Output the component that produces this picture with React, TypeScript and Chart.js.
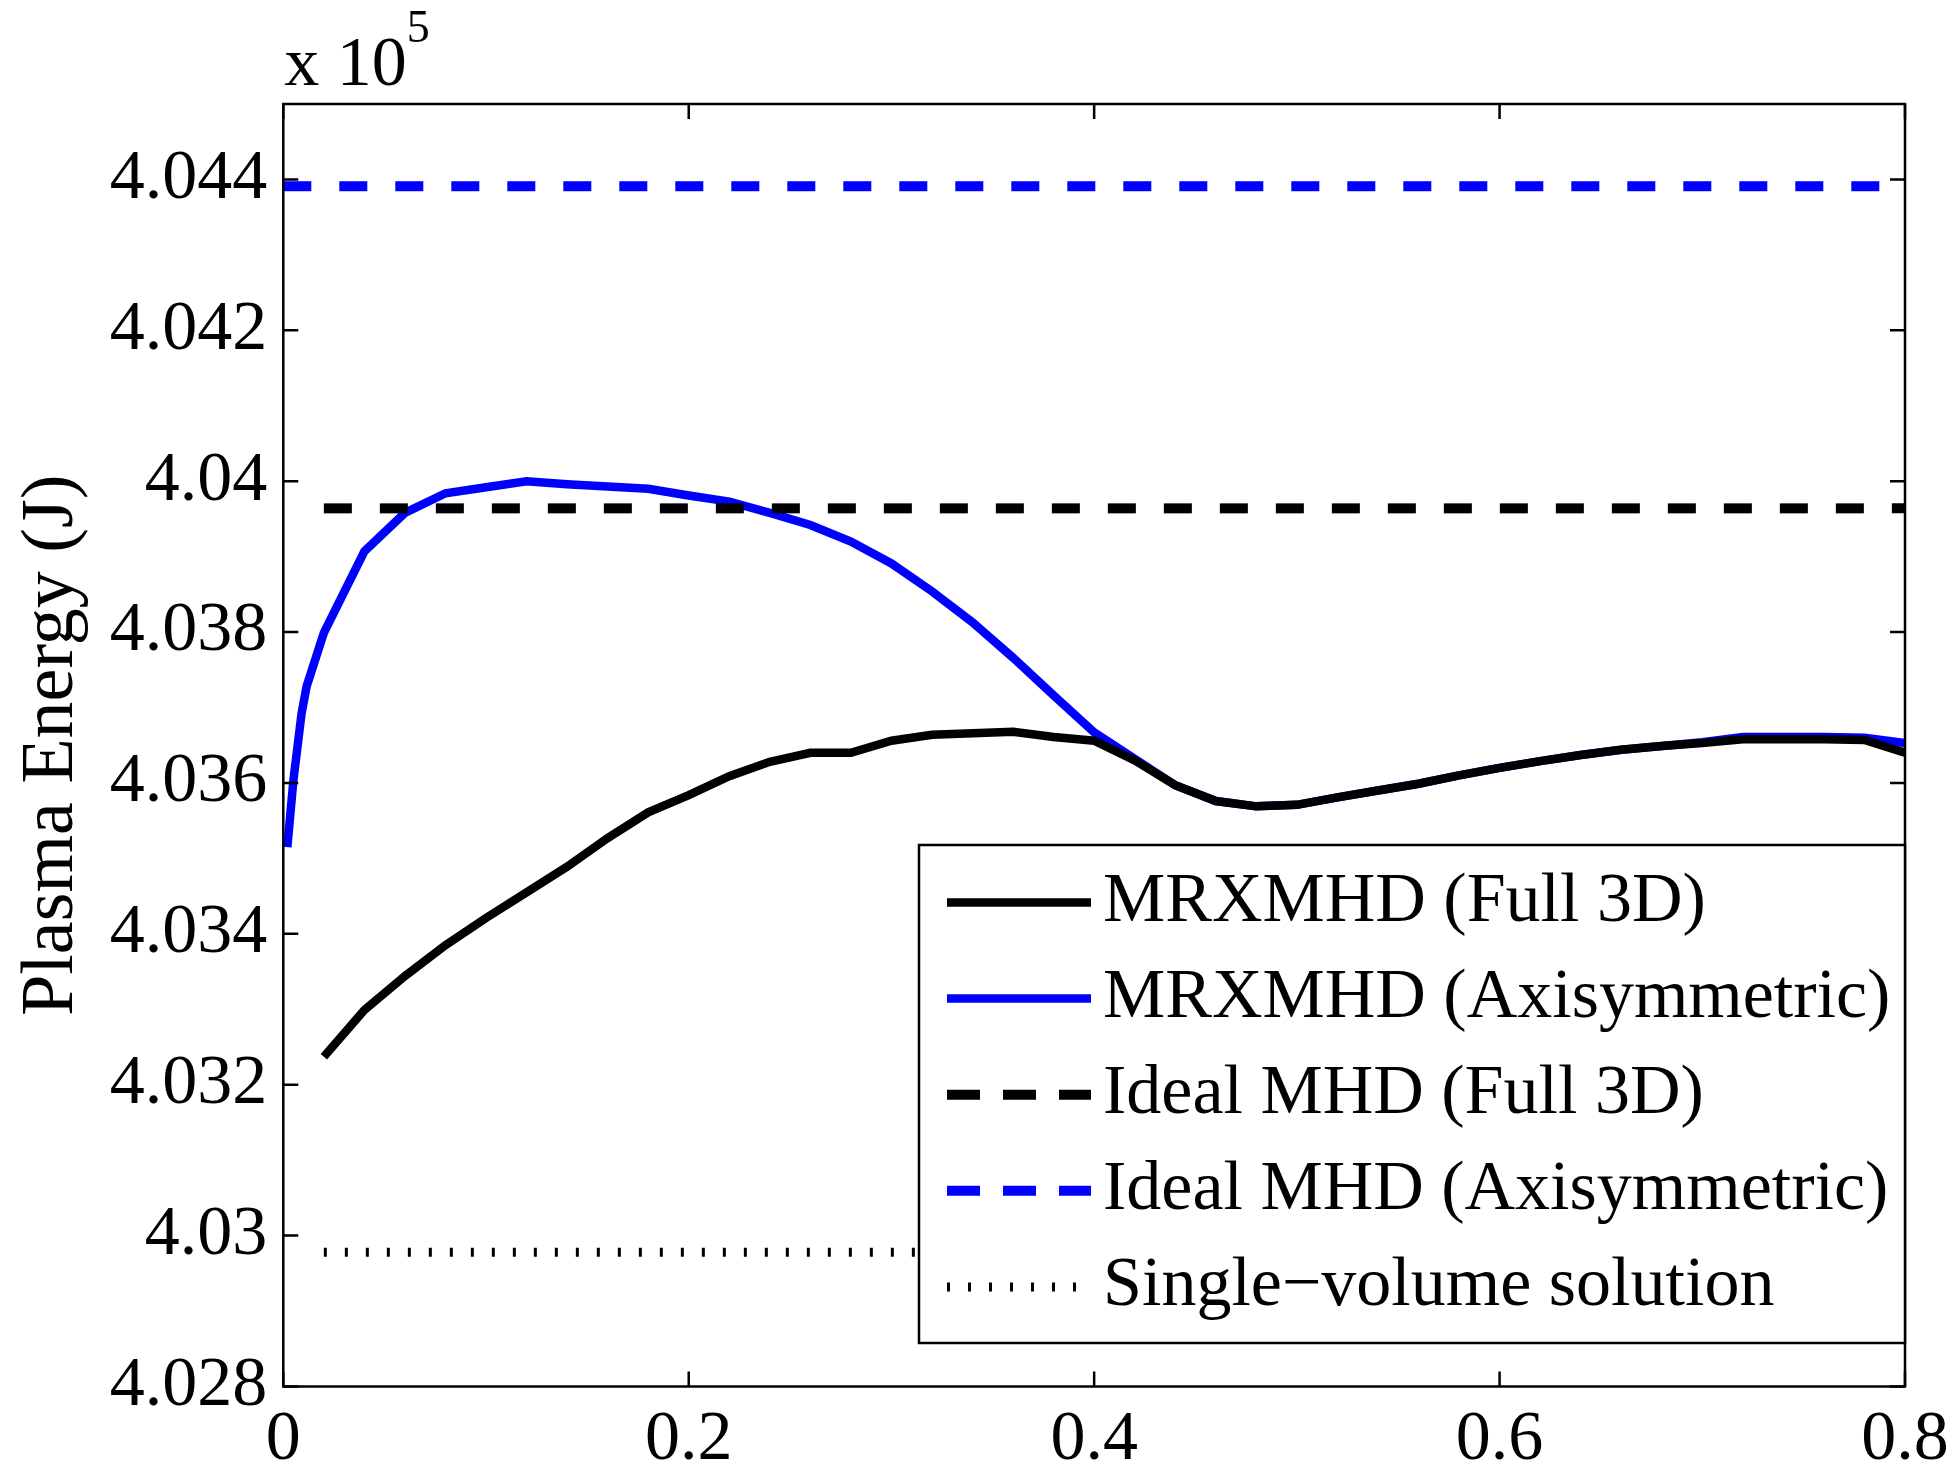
import React, { useEffect, useRef } from 'react';
import { Chart, registerables } from 'chart.js';

Chart.register(...registerables);

const FONT = "'Liberation Serif', 'Times New Roman', Times, serif";

// ---- data (energies in J) ----
const xFull3D = [0.02, 0.04, 0.06, 0.08, 0.10, 0.12, 0.14, 0.16, 0.18, 0.20, 0.22, 0.24, 0.26, 0.28, 0.30, 0.32, 0.34, 0.36, 0.38, 0.40, 0.42, 0.44, 0.46, 0.48, 0.50, 0.52, 0.54, 0.56, 0.58, 0.60, 0.62, 0.64, 0.66, 0.68, 0.70, 0.72, 0.74, 0.76, 0.78, 0.80];
const eFull3D = [403237, 403299, 403344, 403385, 403421, 403455, 403489, 403527, 403561, 403584, 403609, 403628, 403640, 403640, 403656, 403664, 403666, 403668, 403661, 403656, 403630, 403597, 403576, 403569, 403571, 403581, 403590, 403599, 403610, 403620, 403629, 403637, 403644, 403649, 403653, 403658, 403658, 403658, 403657, 403640];

const xAxisym = [0.002, 0.005, 0.009, 0.0115, 0.02, 0.04, 0.06, 0.08, 0.10, 0.12, 0.14, 0.16, 0.18, 0.20, 0.22, 0.24, 0.26, 0.28, 0.30, 0.32, 0.34, 0.36, 0.38, 0.40, 0.42, 0.44, 0.46, 0.48, 0.50, 0.52, 0.54, 0.56, 0.58, 0.60, 0.62, 0.64, 0.66, 0.68, 0.70, 0.72, 0.74, 0.76, 0.78, 0.80];
const eAxisym = [403515, 403604, 403692, 403728, 403799, 403907, 403958, 403984, 403992, 404000, 403996, 403993, 403990, 403981, 403973, 403958, 403942, 403920, 403891, 403854, 403813, 403766, 403716, 403667, 403632, 403597, 403576, 403569, 403571, 403581, 403590, 403599, 403610, 403620, 403629, 403637, 403644, 403649, 403654, 403661, 403661, 403661, 403660, 403653];

const idealFull3DX = [0.02, 0.8];
const idealFull3DE = [403964, 403964];
const idealAxisymX = [0, 0.8];
const idealAxisymE = [404391, 404391];
const singleVolumeX = [0.02, 0.8];
const singleVolumeE = [402978, 402978];

const seriesLabels = [
  'MRXMHD (Full 3D)',
  'MRXMHD (Axisymmetric)',
  'Ideal MHD (Full 3D)',
  'Ideal MHD (Axisymmetric)',
  'Single\u2212volume solution',
];

const xTicks = [0, 0.2, 0.4, 0.6, 0.8];
const xTickLabels = ['0', '0.2', '0.4', '0.6', '0.8'];
const yTicks = [402800, 403000, 403200, 403400, 403600, 403800, 404000, 404200, 404400];
const yTickLabels = ['4.028', '4.03', '4.032', '4.034', '4.036', '4.038', '4.04', '4.042', '4.044'];

const pts = (xs: number[], ys: number[]) => xs.map((x, i) => ({ x, y: ys[i] }));

const framePlugin = {
  id: 'matlabFrame',
  afterDraw(chart: any) {
    const { ctx, chartArea, scales } = chart;
    const { left, right, top, bottom } = chartArea;
    const xs = scales.x;
    const ys = scales.y;
    ctx.save();
    ctx.strokeStyle = '#000';
    ctx.lineWidth = 2.5;
    ctx.setLineDash([]);
    const tl = 15;
    ctx.beginPath();
    xTicks.forEach((v) => {
      const px = xs.getPixelForValue(v);
      ctx.moveTo(px, bottom);
      ctx.lineTo(px, bottom - tl);
      ctx.moveTo(px, top);
      ctx.lineTo(px, top + tl);
    });
    yTicks.forEach((v) => {
      const py = ys.getPixelForValue(v);
      ctx.moveTo(left, py);
      ctx.lineTo(left + tl, py);
      ctx.moveTo(right, py);
      ctx.lineTo(right - tl, py);
    });
    ctx.stroke();
    ctx.strokeRect(left, top, right - left, bottom - top);

    // exponent label
    ctx.fillStyle = '#000';
    ctx.textAlign = 'left';
    ctx.textBaseline = 'alphabetic';
    ctx.font = `70px ${FONT}`;
    ctx.fillText('x 10', left + 1, 85);
    const w = ctx.measureText('x 10').width;
    ctx.font = `46px ${FONT}`;
    ctx.fillText('5', left + 1 + w, 42);

    // legend
    const bx0 = 919, by0 = 845, bx1 = right, by1 = 1343;
    ctx.fillStyle = '#fff';
    ctx.fillRect(bx0, by0, bx1 - bx0, by1 - by0);
    ctx.lineWidth = 2.5;
    ctx.strokeStyle = '#000';
    ctx.strokeRect(bx0, by0, bx1 - bx0, by1 - by0);
    const rowY0 = 902.5, rowStep = 96.1;
    const sx0 = 947, sx1 = 1091, tx = 1103;
    chart.data.datasets.forEach((ds: any, i: number) => {
      const yy = rowY0 + i * rowStep;
      ctx.strokeStyle = ds.borderColor;
      ctx.lineWidth = ds.borderWidth;
      ctx.setLineDash(ds.legendDash || []);
      ctx.lineCap = 'butt';
      ctx.beginPath();
      ctx.moveTo(sx0, yy);
      ctx.lineTo(sx1, yy);
      ctx.stroke();
      ctx.setLineDash([]);
      ctx.fillStyle = '#000';
      ctx.font = `70px ${FONT}`;
      ctx.textBaseline = 'middle';
      ctx.fillText(ds.label, tx, yy);
    });
    ctx.restore();
  },
};

export default function App() {
  const ref = useRef<HTMLCanvasElement | null>(null);
  useEffect(() => {
    if (!ref.current) return;
    const chart = new Chart(ref.current, {
      type: 'line',
      data: {
        datasets: [
          {
            label: seriesLabels[0],
            data: pts(xFull3D, eFull3D),
            borderColor: '#000000',
            borderWidth: 8.5,
            pointRadius: 0,
            order: 1,
          } as any,
          {
            label: seriesLabels[1],
            data: pts(xAxisym, eAxisym),
            borderColor: '#0000ff',
            borderWidth: 8.5,
            pointRadius: 0,
            order: 2,
          } as any,
          {
            label: seriesLabels[2],
            data: pts(idealFull3DX, idealFull3DE),
            borderColor: '#000000',
            borderWidth: 10,
            borderDash: [28, 28],
            legendDash: [33, 23],
            pointRadius: 0,
            order: 0,
          } as any,
          {
            label: seriesLabels[3],
            data: pts(idealAxisymX, idealAxisymE),
            borderColor: '#0000ff',
            borderWidth: 10,
            borderDash: [28, 28],
            legendDash: [33, 23],
            pointRadius: 0,
            order: 0,
          } as any,
          {
            label: seriesLabels[4],
            data: pts(singleVolumeX, singleVolumeE),
            borderColor: '#000000',
            borderWidth: 9,
            borderDash: [3, 18],
            legendDash: [3, 18],
            pointRadius: 0,
            order: 0,
          } as any,
        ],
      },
      options: {
        animation: false,
        responsive: false,
        devicePixelRatio: 1,
        layout: { padding: { top: 104, right: 47, left: 0, bottom: 0 } },
        plugins: { legend: { display: false }, tooltip: { enabled: false } },
        elements: { line: { tension: 0, fill: false } },
        scales: {
          x: {
            type: 'linear',
            min: 0,
            max: 0.8,
            afterBuildTicks: (s: any) => {
              s.ticks = xTicks.map((v) => ({ value: v }));
            },
            afterFit: (s: any) => {
              s.height = 85.5;
              s.paddingLeft = 0;
              s.paddingRight = 0;
            },
            ticks: {
              callback: (v: any) => xTickLabels[xTicks.indexOf(Number(v))] ?? '',
              font: { family: FONT, size: 70 },
              color: '#000',
              padding: 12,
              maxRotation: 0,
              autoSkip: false,
            },
            grid: { display: false, drawTicks: false },
            border: { display: false },
          },
          y: {
            type: 'linear',
            min: 402800,
            max: 404500,
            afterBuildTicks: (s: any) => {
              s.ticks = yTicks.map((v) => ({ value: v }));
            },
            afterFit: (s: any) => {
              s.width = 283.3;
              s.paddingTop = 0;
              s.paddingBottom = 0;
            },
            ticks: {
              callback: (v: any) => yTickLabels[yTicks.indexOf(Number(v))] ?? '',
              font: { family: FONT, size: 70 },
              color: '#000',
              padding: 16,
              autoSkip: false,
            },
            title: {
              display: true,
              text: 'Plasma Energy (J)',
              font: { family: FONT, size: 74 },
              color: '#000',
              padding: { top: 8, bottom: 0 },
            },
            grid: { display: false, drawTicks: false },
            border: { display: false },
          },
        },
      } as any,
      plugins: [framePlugin],
    });
    return () => chart.destroy();
  }, []);

  return (
    <div style={{ position: 'absolute', left: 0, top: 0, width: 1952, height: 1472, background: '#fff' }}>
      <canvas ref={ref} width={1952} height={1472} style={{ display: 'block', width: 1952, height: 1472 }} />
    </div>
  );
}
